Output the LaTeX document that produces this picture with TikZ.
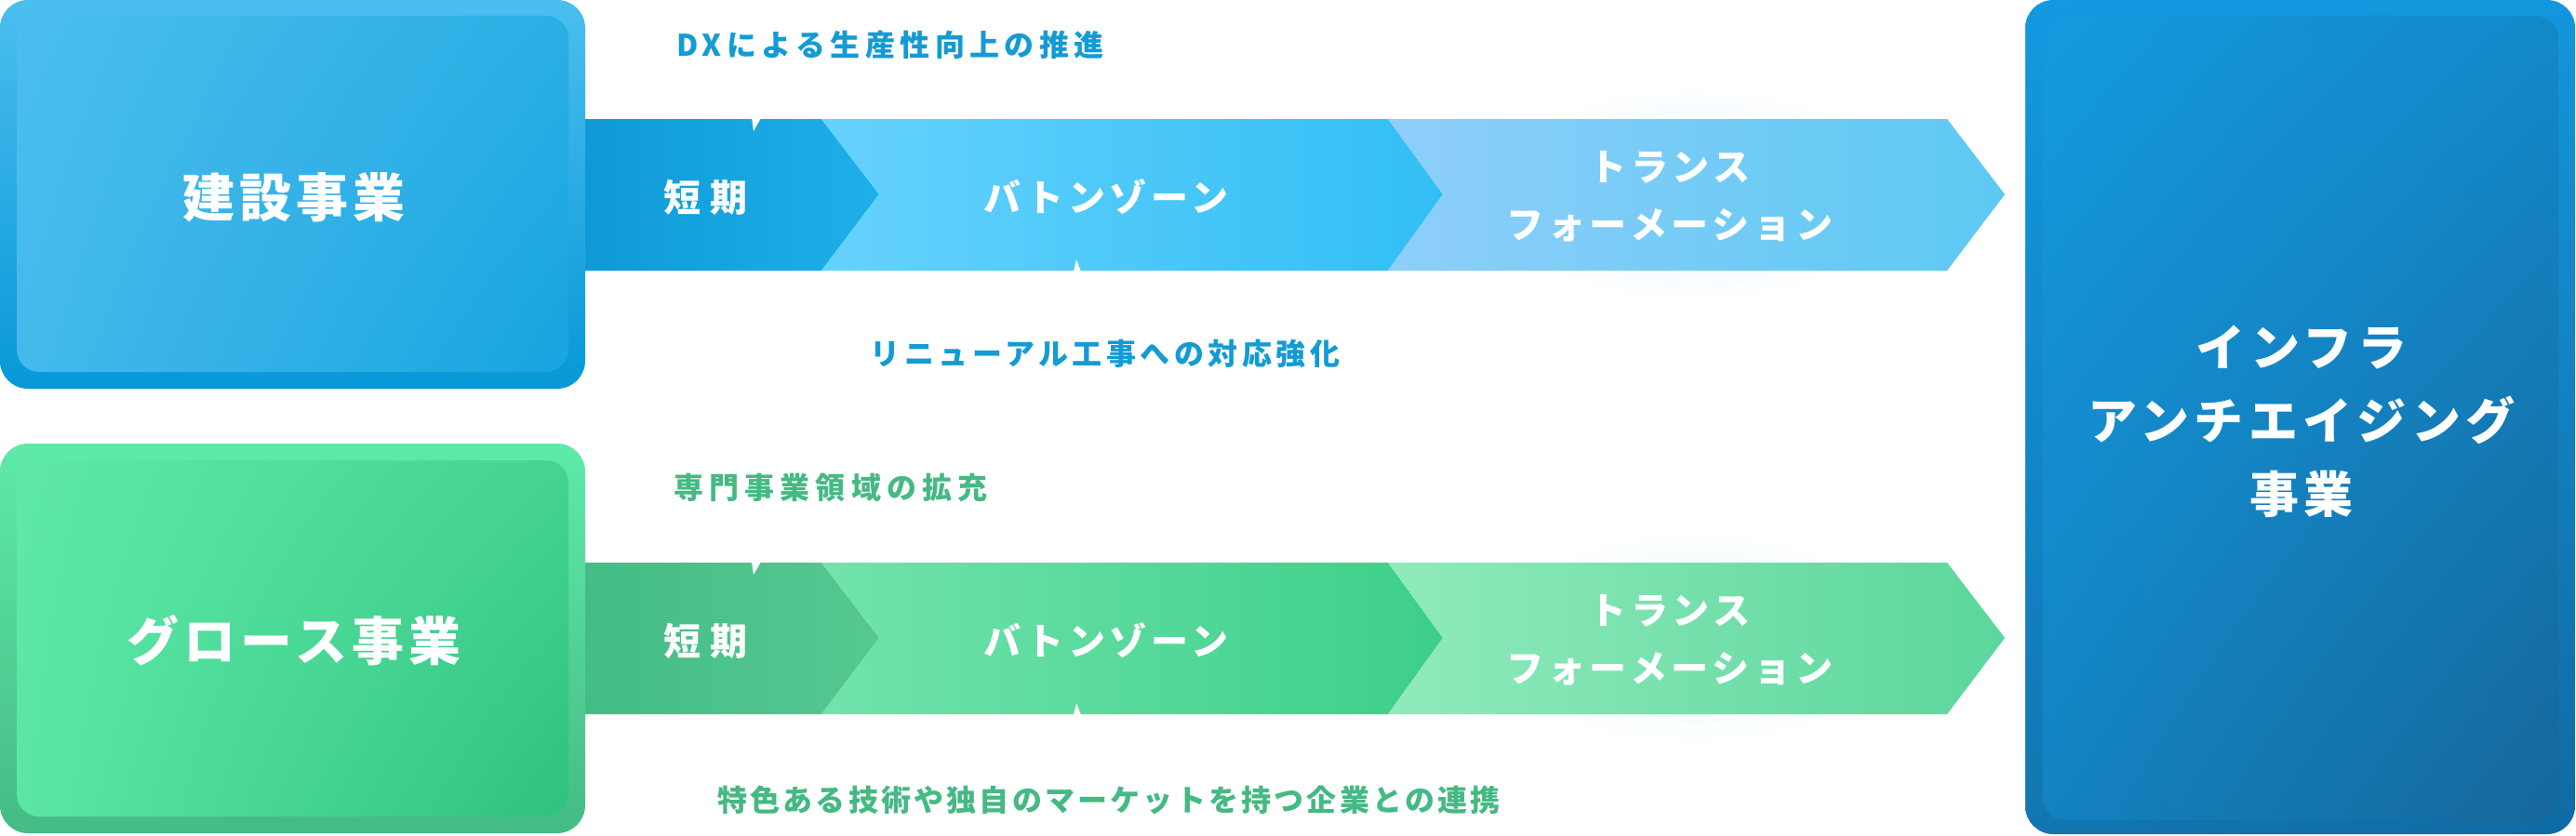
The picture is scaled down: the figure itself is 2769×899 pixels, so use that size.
\documentclass[tikz,border=0pt]{standalone}
\usepackage{fontspec}
\usetikzlibrary{shadings}
\setmainfont{Noto Sans CJK JP}
\newcommand\bigjp{\fontsize{56}{64}\selectfont\bfseries\addfontfeatures{LetterSpace=9}}
\newcommand\infrajp{\fontsize{53}{79}\selectfont\bfseries\addfontfeatures{LetterSpace=10}}
\newcommand\segjp{\fontsize{40}{62}\selectfont\bfseries\addfontfeatures{LetterSpace=12}}
\newcommand\lbljp{\fontsize{32}{38}\selectfont\bfseries}
\definecolor{blueTxt}{HTML}{139BD4}
\definecolor{greenTxt}{HTML}{45B983}
\begin{document}
\begin{tikzpicture}[x=1pt,y=-1pt,
  boxtxt/.style={text=white, font=\bigjp, align=center, inner sep=0pt},
  infratxt/.style={text=white, font=\infrajp, align=center, inner sep=0pt},
  segtxt/.style={text=white, font=\segjp, align=center, inner sep=0pt},
  lbl/.style={font=\lbljp\addfontfeatures{LetterSpace=#1}, inner sep=0pt},
  lbl/.default=12]
\fill[white] (0,0) rectangle (2769,899);
\useasboundingbox (0,0) rectangle (2769,899);

% soft halos
\shade[inner color={rgb,255:red,225;green,243;blue,253}, outer color=white] (1820,209) ellipse (230 and 115);
\shade[inner color={rgb,255:red,225;green,248;blue,238}, outer color=white] (1820,686) ellipse (230 and 115);

% ---- top band ----
\shade[left color={rgb,255:red,14;green,153;blue,214}, right color={rgb,255:red,30;green,176;blue,234}]
  (620,128) -- (883,128) -- (945,209) -- (883,291) -- (620,291) -- cycle;
\shade[left color={rgb,255:red,102;green,210;blue,252}, middle color={rgb,255:red,64;green,196;blue,248}, right color={rgb,255:red,50;green,190;blue,245}]
  (883,128) -- (1492,128) -- (1551,209) -- (1492,291) -- (883,291) -- (945,209) -- cycle;
\shade[left color={rgb,255:red,142;green,206;blue,250}, middle color={rgb,255:red,96;green,200;blue,243}, right color={rgb,255:red,92;green,201;blue,242}]
  (1492,128) -- (2093,128) -- (2155,209) -- (2093,291) -- (1492,291) -- (1551,209) -- cycle;
\fill[white] (808,127) -- (818,127) -- (810,141) -- cycle;
\fill[white] (1154,292) -- (1162,292) -- (1157,279) -- cycle;

% ---- bottom band ----
\shade[left color={rgb,255:red,67;green,188;blue,134}, right color={rgb,255:red,86;green,200;blue,146}]
  (620,605) -- (883,605) -- (945,686) -- (883,768) -- (620,768) -- cycle;
\shade[left color={rgb,255:red,114;green,227;blue,173}, middle color={rgb,255:red,66;green,208;blue,140}, right color={rgb,255:red,60;green,207;blue,137}]
  (883,605) -- (1492,605) -- (1551,686) -- (1492,768) -- (883,768) -- (945,686) -- cycle;
\shade[left color={rgb,255:red,144;green,234;blue,188}, middle color={rgb,255:red,96;green,217;blue,159}, right color={rgb,255:red,91;green,214;blue,156}]
  (1492,605) -- (2093,605) -- (2155,686) -- (2093,768) -- (1492,768) -- (1551,686) -- cycle;
\fill[white] (808,604) -- (818,604) -- (810,618) -- cycle;
\fill[white] (1154,769) -- (1162,769) -- (1157,756) -- cycle;

% ---- left boxes ----
\shade[rounded corners=30pt, top color={rgb,255:red,75;green,190;blue,239}, bottom color={rgb,255:red,7;green,152;blue,215}]
  (0,0) rectangle (629,418);
\shade[rounded corners=24pt, upper left={rgb,255:red,75;green,189;blue,238}, upper right={rgb,255:red,42;green,174;blue,228},
  lower left={rgb,255:red,68;green,185;blue,236}, lower right={rgb,255:red,24;green,164;blue,223}]
  (18,17) rectangle (611,400);
\shade[rounded corners=30pt, top color={rgb,255:red,95;green,234;blue,169}, bottom color={rgb,255:red,69;green,187;blue,134}]
  (0,477) rectangle (629,896);
\shade[rounded corners=24pt, upper left={rgb,255:red,95;green,232;blue,168}, upper right={rgb,255:red,68;green,211;blue,145},
  lower left={rgb,255:red,91;green,230;blue,166}, lower right={rgb,255:red,46;green,194;blue,126}]
  (18,495) rectangle (611,878);

% ---- right box ----
\shade[rounded corners=30pt, upper left={rgb,255:red,19;green,153;blue,224}, upper right={rgb,255:red,20;green,150;blue,220},
  lower left={rgb,255:red,18;green,118;blue,177}, lower right={rgb,255:red,15;green,106;blue,163}]
  (2177,0) rectangle (2768,897);
\shade[rounded corners=24pt, upper left={rgb,255:red,20;green,154;blue,224}, upper right={rgb,255:red,19;green,136;blue,201},
  lower left={rgb,255:red,19;green,130;blue,192}, lower right={rgb,255:red,21;green,103;blue,154}]
  (2196,17) rectangle (2750,882);

% ---- texts ----
\node[boxtxt] (kensetsu) at (316,212) {建設事業};
\node[boxtxt] (growth) at (316,689) {グロース事業};
\node[infratxt] (infra) at (2474,453) {インフラ\\アンチエイジング\\事業};

\node[segtxt] (tA1) at (758,212) {短\hspace{10pt}期};
\node[segtxt] (tA2) at (1189,212) {バトンゾーン};
\node[segtxt] (tA3) at (1795,211) {トランス\\フォーメーション};
\node[segtxt] (tB1) at (758,689) {短\hspace{10pt}期};
\node[segtxt] (tB2) at (1189,689) {バトンゾーン};
\node[segtxt] (tB3) at (1795,688) {トランス\\フォーメーション};

\node[lbl=17, text=blueTxt] (dx) at (957,48) {DXによる生産性向上の推進};
\node[lbl=14, text=blueTxt] (renew) at (1188,380) {リニューアル工事への対応強化};
\node[lbl=19, text=greenTxt] (senmon) at (893,524) {専門事業領域の拡充};
\node[lbl=10, text=greenTxt] (tokushoku) at (1192,860) {特色ある技術や独自のマーケットを持つ企業との連携};
\end{tikzpicture}
\end{document}
